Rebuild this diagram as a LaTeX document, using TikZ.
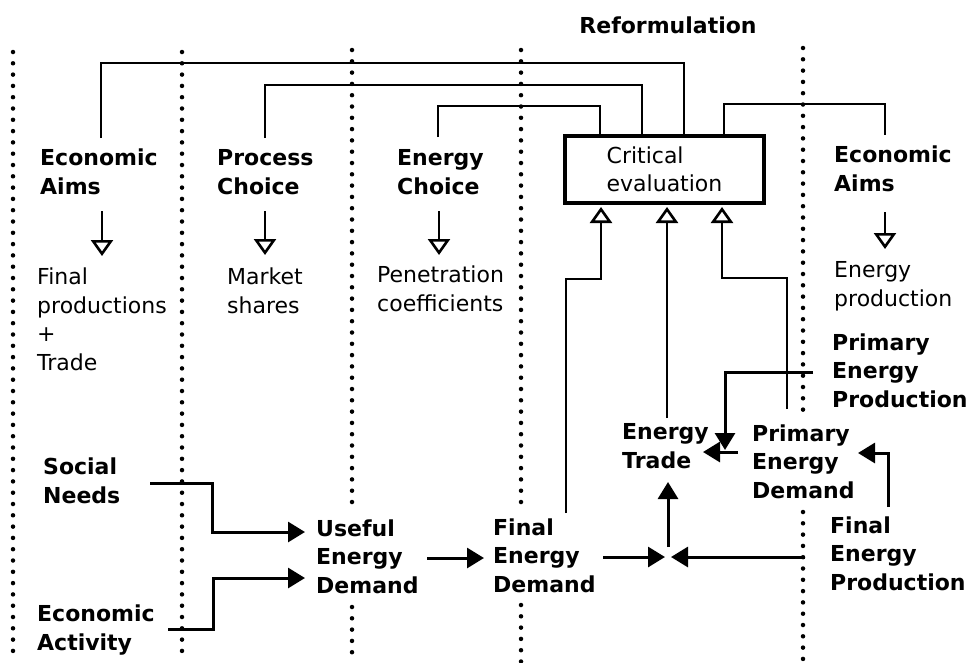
\documentclass[tikz,border=0pt]{standalone}
\usepackage{fontspec}
\setmainfont{DejaVu Sans}
\usetikzlibrary{arrows.meta}
\begin{document}
\begin{tikzpicture}[x=1pt,y=-1pt,
  lab/.style={font=\fontsize{22}{28.5}\selectfont, align=left, inner sep=0pt, anchor=base west},
  labb/.style={lab, font=\fontsize{22}{28.5}\selectfont\bfseries},
  dotline/.style={line width=4.5pt, dash pattern=on 0pt off 11.3pt, line cap=round},
  conn/.style={line width=2pt},
  openarr/.style={line width=2pt, -{Triangle[open,length=16pt,width=22pt,line width=2.6pt]}},
  solidarr/.style={line width=3pt, -{Triangle[length=17pt,width=20pt]}},
  evalbox/.style={draw, line width=3.5pt, minimum width=199pt, minimum height=67pt, align=left, inner sep=0pt, font=\fontsize{22}{28.5}\selectfont}
]
\useasboundingbox (0,0) rectangle (969,662);
% dotted separators
\draw[dotline] (13,52) -- (13,662);
\draw[dotline] (182,52) -- (182,662);
\draw[dotline] (352,50) -- (352,503);
\draw[dotline] (352,607) -- (352,662);
\draw[dotline] (521,50) -- (521,503);
\draw[dotline] (521,605) -- (521,662);
\draw[dotline] (803,48) -- (803,410);
\draw[dotline] (803,512) -- (803,662);

% texts (anchored at the baseline of the last line)
\node[labb, anchor=base] (ref) at (668,33) {Reformulation};
\node[evalbox] (ce) at (664.5,169.5) {Critical\\evaluation};
\node[labb] (ea1) at (40,194) {Economic\\Aims};
\node[labb] (pc) at (217,194) {Process\\Choice};
\node[labb] (ec) at (397,194) {Energy\\Choice};
\node[labb] (ea2) at (834,191) {Economic\\Aims};
\node[lab] (fp) at (37,370) {Final\\productions\\+\\Trade};
\node[lab] (ms) at (227,313) {Market\\shares};
\node[lab] (pco) at (377,311) {Penetration\\coefficients};
\node[lab] (ep) at (834,306) {Energy\\production};
\node[labb] (pep) at (832,407) {Primary\\Energy\\Production};
\node[labb] (et) at (622,468) {Energy\\Trade};
\node[labb] (ped) at (752,498) {Primary\\Energy\\Demand};
\node[labb] (fep) at (830,590) {Final\\Energy\\Production};
\node[labb] (fed) at (493,592) {Final\\Energy\\Demand};
\node[labb] (sn) at (43,503) {Social\\Needs};
\node[labb] (eac) at (37,650) {Economic\\Activity};
\node[labb] (ued) at (316,593) {Useful\\Energy\\Demand};

% connector coordinates
\coordinate (ea1t) at (101,138);
\coordinate (pct) at (265,138);
\coordinate (ect) at (438,137);
\coordinate (ea2t) at (885,135);
\coordinate (b1) at (684,136);
\coordinate (b2) at (642,136);
\coordinate (b3) at (600,136);
\coordinate (b4) at (724,136);
\coordinate (h1) at (684,63);
\coordinate (h2) at (642,85);
\coordinate (h3) at (600,106);
\coordinate (h4) at (885,104);

\draw[conn] (ea1t) |- (h1) -- (b1);
\draw[conn] (pct) |- (h2) -- (b2);
\draw[conn] (ect) |- (h3) -- (b3);
\draw[conn] (b4) |- (h4) -- (ea2t);

% open arrows down
\coordinate (d1s) at (102,211); \coordinate (d1e) at (102,256);
\coordinate (d2s) at (265,211); \coordinate (d2e) at (265,255);
\coordinate (d3s) at (439,211); \coordinate (d3e) at (439,255);
\coordinate (d4s) at (885,212); \coordinate (d4e) at (885,249);
\draw[openarr] (d1s) -- (d1e);
\draw[openarr] (d2s) -- (d2e);
\draw[openarr] (d3s) -- (d3e);
\draw[openarr] (d4s) -- (d4e);

% open arrows up into evaluation box
\coordinate (u1s) at (566,513); \coordinate (u1m) at (601,279); \coordinate (u1e) at (601,207);
\coordinate (u2s) at (667,418); \coordinate (u2e) at (667,207);
\coordinate (u3s) at (787,409); \coordinate (u3m) at (722,278); \coordinate (u3e) at (722,207);
\draw[openarr] (u1s) |- (u1m) -- (u1e);
\draw[openarr] (u2s) -- (u2e);
\draw[openarr] (u3s) |- (u3m) -- (u3e);

% solid arrows
\coordinate (p1s) at (813,372); \coordinate (p1e) at (725,450);
\draw[solidarr] (p1s) -| (p1e);
\coordinate (p2s) at (738,452); \coordinate (p2e) at (703,452);
\draw[solidarr] (p2s) -- (p2e);
\coordinate (p3s) at (888,507); \coordinate (p3e) at (858,453);
\draw[solidarr] (p3s) |- (p3e);
\coordinate (j1s) at (603,557); \coordinate (j1e) at (665,557);
\draw[solidarr] (j1s) -- (j1e);
\coordinate (j2s) at (805,557); \coordinate (j2e) at (671,557);
\draw[solidarr] (j2s) -- (j2e);
\coordinate (j3s) at (668,547); \coordinate (j3e) at (668,482);
\draw[solidarr] (j3s) -- (j3e);
\coordinate (s1s) at (150,483); \coordinate (s1m) at (212,532); \coordinate (s1e) at (305,532);
\draw[solidarr] (s1s) -| (s1m) -- (s1e);
\coordinate (s2s) at (168,629); \coordinate (s2m) at (213,578); \coordinate (s2e) at (305,578);
\draw[solidarr] (s2s) -| (s2m) -- (s2e);
\coordinate (s3s) at (427,558); \coordinate (s3e) at (484,558);
\draw[solidarr] (s3s) -- (s3e);
\end{tikzpicture}
\end{document}
